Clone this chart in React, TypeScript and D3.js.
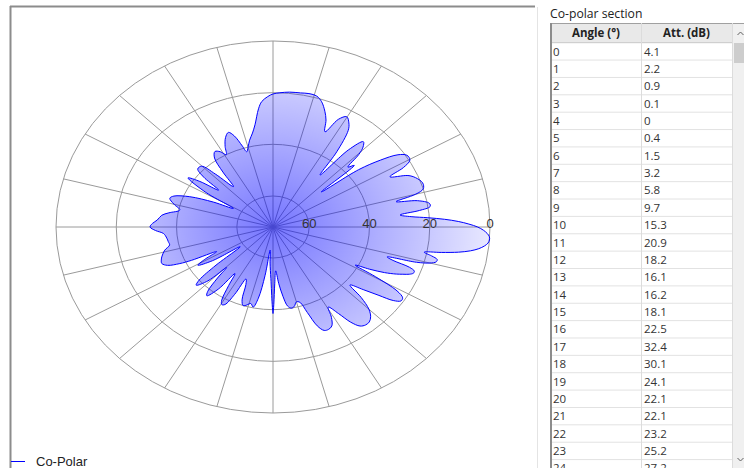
import React from "react";
import * as d3 from "d3";

// Co-polar radiation pattern: angle in degrees (clockwise from the 0° axis), attenuation in dB
const patternAngles = [
  0, 1, 2, 3, 4, 5, 6, 7, 8, 9, 10, 11, 12, 13, 14, 15, 16, 17, 18, 19, 20, 21, 22, 23, 24,
  25.5, 27, 28.4, 29.5, 31, 32.5, 34, 35.5, 37, 39, 41.3, 43, 45, 47, 49, 51, 53, 55, 57, 59.4,
  61, 63, 65, 67, 69, 71, 73, 75, 77, 79, 81, 83, 85, 87, 88.5, 89.5, 90, 90.5, 92, 94, 96, 98,
  100, 102, 104, 106, 108, 110, 112, 114, 116, 118, 119.5, 121, 123, 125, 127, 129.5, 131, 133,
  134.5, 136, 138.5, 140, 142, 145, 147, 149.3, 151, 153, 154.5, 155.4, 157, 159, 161, 163, 166,
  168.5, 170.7, 173, 176, 178, 180, 182, 184, 187, 189, 192, 195, 198, 200, 203, 206, 208.6, 211,
  214, 216, 218.3, 220, 222, 224.8, 227, 230, 232, 234, 236.6, 239, 241, 243, 245.5, 248, 250,
  252, 253.3, 255, 257, 259.4, 261.4, 264, 265.6, 268, 270, 272.5, 276, 280, 283, 286, 288.4,
  291, 293, 295.1, 297.5, 299.8, 302, 303.7, 306, 307.8, 310, 312.2, 314, 315.4, 317, 318.5,
  319.7, 322, 324, 326, 328, 330.3, 332, 333.4, 336, 338, 341, 343.5, 345, 346.5, 348, 350,
  351.4, 352.5, 353.7, 355, 356, 357, 358, 359,
];
const patternAtt = [
  4.1, 2.2, 0.9, 0.1, 0, 0.4, 1.5, 3.2, 5.8, 9.7, 15.3, 20.9, 18.2, 16.1, 16.2, 18.1, 22.5, 32.4,
  30.1, 24.1, 22.1, 22.1, 23.2, 25.2, 27.2,
  31, 36, 41, 33, 24, 21, 20.8, 23, 28, 33.5, 38, 32, 27, 24.5, 23.3, 23.2, 24, 27, 32, 36,
  32, 29, 28.3, 28.5, 31, 37, 41.5, 42, 40.5, 40, 41, 45, 50, 55, 50, 42, 38.5, 42, 52, 58, 63, 53,
  44, 40.3, 41.5, 40.6, 40, 42, 48, 50, 43, 38, 37.5, 39, 45, 50, 42, 37.5, 39, 45,
  50, 42, 38, 40, 48, 58.7, 48, 43, 46, 51, 42, 38, 34, 32.5, 32.8, 33.5, 35,
  37, 36.8, 36.5, 35.6, 33, 31.2, 32, 33.5, 34.8, 37, 40.4, 38, 36, 37, 42, 50, 57, 46,
  38, 42, 49, 42, 38.4, 38.6, 44, 51.6, 45, 39, 37, 38, 40, 37, 34, 32.5, 34.5,
  39, 41.6, 40, 37.5, 35, 32, 26, 23.3, 21.5, 20.5, 20, 19.5, 19.3, 19, 19.3, 20.9,
  24, 27, 31.3, 25, 22.8, 24.5, 27, 36, 46.5, 33, 27.4, 29, 32, 38, 36,
  51, 36, 28, 22, 19.6, 19.7, 23, 28.6, 23, 21, 19.5, 20, 23, 30, 23, 19.3,
  19.3, 23, 29.6, 26, 20.5, 15, 10.5, 7,
];

// Rows shown in the section table
const tableRowCount = 25;
const ringLevels = [60, 40, 20, 0];
const ringLabels = ["60", "40", "20", "0"];
const spokeAngles = [0, 15, 30, 45, 60, 75, 90, 105, 120, 135, 150, 165, 180, 195, 210, 225, 240, 255, 270, 285, 300, 315, 330, 345];
const tableHeaders = ["Angle (°)", "Att. (dB)"];
const seriesName = "Co-Polar";
const tableTitle = "Co-polar section";

const W = 744;
const H = 468;
const cx = 273;
const cy = 227;
const RX = 217;
const RY = 186;

const rScale = d3.scaleLinear().domain([72, 0]).range([0, RX]);
const toRad = (deg: number) => ((deg + 90) * Math.PI) / 180;

export default function App() {
  const points: [number, number][] = patternAngles.map((a, i) => [toRad(a), rScale(patternAtt[i])]);
  const radial = d3
    .lineRadial<[number, number]>()
    .angle((d) => d[0])
    .radius((d) => d[1])
    .curve(d3.curveCatmullRomClosed.alpha(0.5));
  const pathD = radial(points) || "";

  const gridColor = "#9a9a9a";
  const tableX = 551;
  const col2X = 641;
  const tableR = 732;
  const headerTop = 23;
  const headerH = 19.7;
  const rowH = 17.37;
  const firstRow = headerTop + headerH;
  const rows = d3.range(tableRowCount);
  const tableFont = "'Open Sans', 'Noto Sans', sans-serif";

  return (
    <svg
      width={W}
      height={H}
      viewBox={`0 0 ${W} ${H}`}
      style={{ position: "absolute", left: 0, top: 0, background: "#fff" }}
      fontFamily="'Liberation Sans', Arial, sans-serif"
    >
      <defs>
        <radialGradient id="lobeFill" gradientUnits="userSpaceOnUse" cx={0} cy={0} r={RX}>
          <stop offset="0" stopColor="#0000ff" stopOpacity={0.54} />
          <stop offset="0.5" stopColor="#0000ff" stopOpacity={0.31} />
          <stop offset="1" stopColor="#0000ff" stopOpacity={0.09} />
        </radialGradient>
      </defs>

      {/* chart panel frame */}
      <line x1={10.5} y1={6} x2={10.5} y2={H} stroke="#8c8c8c" strokeWidth={2} />
      <line x1={10} y1={6.5} x2={535} y2={6.5} stroke="#8c8c8c" strokeWidth={2} />
      <line x1={537.5} y1={7} x2={537.5} y2={H} stroke="#e4e4e4" strokeWidth={1} />

      {/* polar grid and pattern, drawn in circle space and squeezed vertically */}
      <g transform={`translate(${cx},${cy}) scale(1,${RY / RX})`}>
        {ringLevels.map((lv) => (
          <circle
            key={lv}
            r={rScale(lv)}
            fill="none"
            stroke={gridColor}
            strokeWidth={1}
            vectorEffect="non-scaling-stroke"
          />
        ))}
        {spokeAngles.map((a) => {
          const t = (a * Math.PI) / 180;
          return (
            <line
              key={a}
              x1={0}
              y1={0}
              x2={RX * Math.cos(t)}
              y2={RX * Math.sin(t)}
              stroke={gridColor}
              strokeWidth={1}
              vectorEffect="non-scaling-stroke"
            />
          );
        })}
        <path
          d={pathD}
          fill="url(#lobeFill)"
          stroke="#0000ff"
          strokeWidth={1}
          strokeLinejoin="round"
          vectorEffect="non-scaling-stroke"
        />
      </g>

      {ringLevels.map((lv, i) => (
        <text key={lv} x={cx + rScale(lv)} y={228} textAnchor="middle" fontSize={13} fill="#333">
          {ringLabels[i]}
        </text>
      ))}

      {/* legend */}
      <line x1={11} y1={461.5} x2={25} y2={461.5} stroke="#0000ff" strokeWidth={1} />
      <text x={36} y={466} fontSize={13} fill="#222">
        {seriesName}
      </text>

      {/* section table */}
      <text x={550} y={18} fontSize={12.2} fill="#222" fontFamily={tableFont}>
        {tableTitle}
      </text>
      <rect x={tableX} y={headerTop} width={tableR - tableX} height={H - headerTop} fill="#fff" />
      <rect x={tableX} y={headerTop} width={tableR - tableX} height={headerH} fill="#e9e9e9" />
      <line x1={tableX} y1={headerTop + 0.5} x2={744} y2={headerTop + 0.5} stroke="#a0a0a0" />
      <line x1={tableX} y1={firstRow} x2={tableR} y2={firstRow} stroke="#c8c8c8" />
      {rows.map((i) => (
        <line
          key={`r${i}`}
          x1={tableX}
          y1={firstRow + (i + 1) * rowH}
          x2={tableR}
          y2={firstRow + (i + 1) * rowH}
          stroke="#e2e2e2"
        />
      ))}
      <line x1={col2X + 0.5} y1={headerTop} x2={col2X + 0.5} y2={H} stroke="#dcdcdc" />
      <line x1={tableR + 0.5} y1={headerTop} x2={tableR + 0.5} y2={H} stroke="#dcdcdc" />
      <line x1={tableX} y1={headerTop} x2={tableX} y2={H} stroke="#8c8c8c" strokeWidth={2} />
      {tableHeaders.map((h, i) => (
        <text
          key={h}
          x={i === 0 ? (tableX + col2X) / 2 : (col2X + tableR) / 2}
          y={headerTop + 14}
          textAnchor="middle"
          fontSize={11.5}
          fontWeight="bold"
          fill="#222"
          fontFamily={tableFont}
        >
          {h}
        </text>
      ))}
      {rows.map((i) => (
        <g key={`t${i}`} fontFamily={tableFont} fontSize={11.5} fill="#333">
          <text x={tableX + 2} y={firstRow + i * rowH + 12.8}>
            {String(patternAngles[i])}
          </text>
          <text x={col2X + 3} y={firstRow + i * rowH + 12.8}>
            {String(patternAtt[i])}
          </text>
        </g>
      ))}

      {/* scrollbar */}
      <rect x={733} y={headerTop + 1} width={11} height={H - headerTop} fill="#f0f0f0" />
      <rect x={734} y={headerTop + 20} width={10} height={20} fill="#cdcdcd" />
      <path d="M737.5,35 L740.5,32 L743.5,35" fill="none" stroke="#606060" strokeWidth={1} />
      <path d="M737.5,458 L740.5,461 L743.5,458" fill="none" stroke="#606060" strokeWidth={1} />
    </svg>
  );
}
